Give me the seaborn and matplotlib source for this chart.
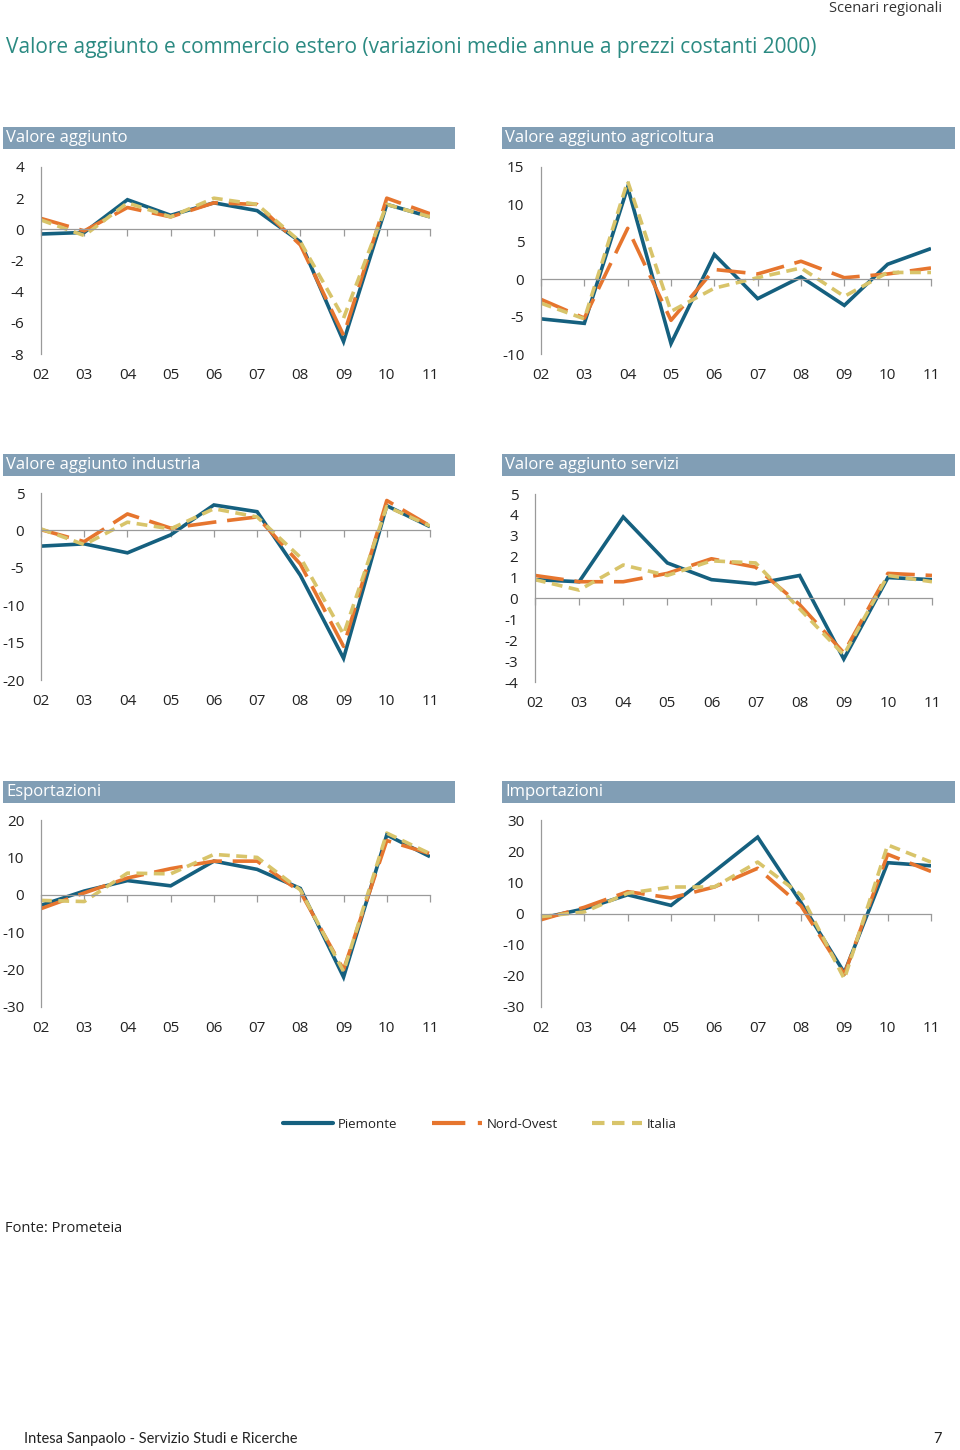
import matplotlib
matplotlib.use("Agg")
import matplotlib.pyplot as plt
import seaborn as sns
import pandas as pd
from matplotlib.patches import Rectangle
from matplotlib.lines import Line2D

years = ["02", "03", "04", "05", "06", "07", "08", "09", "10", "11"]
series_names = ["Piemonte", "Nord-Ovest", "Italia"]

va_piemonte = [-0.3, -0.2, 1.9, 0.9, 1.7, 1.2, -0.8, -7.2, 1.6, 0.8]
va_nordovest = [0.7, -0.1, 1.4, 0.8, 1.7, 1.6, -1.0, -6.8, 2.0, 1.0]
va_italia = [0.6, -0.4, 1.7, 0.8, 2.0, 1.6, -0.8, -5.7, 1.6, 0.8]

agr_piemonte = [-5.3, -5.9, 12.3, -8.6, 3.3, -2.6, 0.3, -3.5, 2.0, 4.1]
agr_nordovest = [-2.7, -5.2, 6.8, -5.5, 1.3, 0.7, 2.4, 0.2, 0.7, 1.5]
agr_italia = [-3.2, -5.3, 13.1, -4.3, -1.2, 0.2, 1.5, -2.3, 0.9, 0.9]

ind_piemonte = [-2.1, -1.8, -3.0, -0.6, 3.4, 2.5, -6.0, -17.1, 3.3, 0.5]
ind_nordovest = [0.1, -1.5, 2.2, 0.3, 1.1, 1.8, -4.5, -15.5, 4.0, 0.6]
ind_italia = [0.2, -1.9, 1.1, 0.2, 2.9, 1.8, -3.6, -13.9, 3.2, 0.6]

ser_piemonte = [0.9, 0.8, 3.9, 1.7, 0.9, 0.7, 1.1, -2.9, 1.0, 0.9]
ser_nordovest = [1.1, 0.8, 0.8, 1.2, 1.9, 1.5, -0.3, -2.6, 1.2, 1.1]
ser_italia = [0.9, 0.4, 1.6, 1.1, 1.8, 1.7, -0.5, -2.7, 1.1, 0.8]

exp_piemonte = [-2.8, 1.0, 3.8, 2.4, 9.0, 6.8, 1.7, -22.0, 16.0, 10.2]
exp_nordovest = [-3.7, 0.5, 4.5, 7.0, 9.0, 9.0, 0.8, -20.0, 14.5, 11.0]
exp_italia = [-1.5, -1.8, 5.8, 5.6, 10.8, 10.0, 1.3, -20.5, 16.5, 11.0]

imp_piemonte = [-1.5, 1.5, 6.0, 2.6, 13.5, 24.5, 3.5, -19.0, 16.3, 15.3]
imp_nordovest = [-2.0, 2.0, 7.0, 5.0, 8.5, 14.5, 2.5, -19.5, 19.0, 13.5]
imp_italia = [-1.0, 0.5, 6.5, 8.5, 8.5, 16.5, 6.0, -21.0, 22.0, 16.5]

panels = [
    ("Valore aggiunto", [va_piemonte, va_nordovest, va_italia], (-8, 4), [-8, -6, -4, -2, 0, 2, 4]),
    ("Valore aggiunto agricoltura", [agr_piemonte, agr_nordovest, agr_italia], (-10, 15), [-10, -5, 0, 5, 10, 15]),
    ("Valore aggiunto industria", [ind_piemonte, ind_nordovest, ind_italia], (-20, 5), [-20, -15, -10, -5, 0, 5]),
    ("Valore aggiunto servizi", [ser_piemonte, ser_nordovest, ser_italia], (-4, 5), list(range(-4, 6))),
    ("Esportazioni", [exp_piemonte, exp_nordovest, exp_italia], (-30, 20), [-30, -20, -10, 0, 10, 20]),
    ("Importazioni", [imp_piemonte, imp_nordovest, imp_italia], (-30, 30), [-30, -20, -10, 0, 10, 20, 30]),
]

palette = {"Piemonte": "#15607f", "Nord-Ovest": "#e6752e", "Italia": "#d8c46a"}
dashes = {"Piemonte": "", "Nord-Ovest": (8, 3), "Italia": (3, 1.8)}

sns.set_theme(style="white")
plt.rcParams["font.family"] = ["Open Sans", "DejaVu Sans"]
plt.rcParams["text.color"] = "#222222"

W, H = 960, 1450
fig = plt.figure(figsize=(W / 100, H / 100), dpi=100)

# axes boxes in pixels: (left, right, top, bottom)
boxes = [
    (41, 430, 167, 354),
    (541, 931, 167, 354),
    (41, 430, 493, 680),
    (535, 932, 494, 682),
    (41, 430, 820, 1007),
    (541, 931, 820, 1007),
]
bars = [
    (3, 455, 127, 149),
    (502, 955, 127, 149),
    (3, 455, 454, 476),
    (502, 955, 454, 476),
    (3, 455, 781, 803),
    (502, 955, 781, 803),
]

header_color = "#819eb5"
axis_gray = "#9a9a9a"

for (title, vals, ylim, yticks), (l, r, t, b), (bl, br, bt, bb) in zip(panels, boxes, bars):
    ax = fig.add_axes([l / W, 1 - b / H, (r - l) / W, (b - t) / H])
    rows = []
    for name, v in zip(series_names, vals):
        for i, (yr, val) in enumerate(zip(years, v)):
            rows.append({"x": i, "anno": yr, "serie": name, "valore": val})
    df = pd.DataFrame(rows)
    sns.lineplot(data=df, x="x", y="valore", hue="serie", style="serie",
                 palette=palette, dashes=dashes, hue_order=series_names,
                 style_order=series_names, linewidth=2.6, ax=ax, legend=False,
                 sort=False, estimator=None)
    ax.set_xlim(0, len(years) - 1)
    ax.set_ylim(*ylim)
    ax.set_yticks(yticks)
    ax.set_yticklabels([str(v) for v in yticks])
    ax.set_xlabel("")
    ax.set_ylabel("")
    for s in ["top", "right"]:
        ax.spines[s].set_visible(False)
    ax.spines["left"].set_color(axis_gray)
    ax.spines["left"].set_linewidth(0.9)
    ax.spines["bottom"].set_position(("data", 0))
    ax.spines["bottom"].set_color(axis_gray)
    ax.spines["bottom"].set_linewidth(0.9)
    ax.set_xticks(range(len(years)))
    ax.tick_params(axis="x", direction="out", length=5, width=0.9, color=axis_gray,
                   labelbottom=False, bottom=True)
    ax.tick_params(axis="y", length=0, labelsize=11, pad=12, labelcolor="#222222")
    for lab in ax.get_yticklabels():
        lab.set_horizontalalignment("right")
    sec = ax.secondary_xaxis("bottom")
    sec.set_xticks(range(len(years)))
    sec.set_xticklabels(years)
    sec.spines["bottom"].set_visible(False)
    sec.tick_params(length=0, labelsize=11, pad=10, labelcolor="#222222")
    for line in ax.get_lines():
        line.set_solid_capstyle("butt")
        line.set_dash_capstyle("butt")
        line.set_solid_joinstyle("miter")
    # header bar
    fig.patches.append(Rectangle((bl / W, 1 - bb / H), (br - bl) / W, (bb - bt) / H,
                                 transform=fig.transFigure, facecolor=header_color,
                                 edgecolor="none", zorder=0))
    fig.text((bl + 3) / W, 1 - (bt + bb) / 2 / H, title, color="white",
             fontsize=12, va="center", ha="left")

# main title and header
fig.text(6 / W, 1 - 48 / H,
         "Valore aggiunto e commercio estero (variazioni medie annue a prezzi costanti 2000)",
         color="#2b8a82", fontsize=15, va="center", ha="left")
fig.text(942 / W, 1 - 8 / H, "Scenari regionali", color="#333333", fontsize=10.5,
         va="center", ha="right")

# legend
handles = [Line2D([0], [0], color=palette[n], linewidth=3,
                  linestyle="-" if n == "Piemonte" else (0, dashes[n]))
           for n in series_names]
fig.legend(handles, series_names, loc="center", bbox_to_anchor=(0.5, 1 - 1124 / H),
           ncol=3, frameon=False, fontsize=9.5, handlelength=3.8, columnspacing=2.6,
           handletextpad=0.35)

fig.text(5 / W, 1 - 1228 / H, "Fonte: Prometeia", fontsize=10.5, va="center", ha="left")
fig.text(24 / W, 1 - 1439 / H, "Intesa Sanpaolo - Servizio Studi e Ricerche",
         fontsize=10.5, va="center", ha="left", family=["Lato", "DejaVu Sans"])
fig.text(942 / W, 1 - 1439 / H, "7", fontsize=10.5, va="center", ha="right",
         family=["Lato", "DejaVu Sans"])

fig.savefig("out.png", dpi=100, facecolor="white")
